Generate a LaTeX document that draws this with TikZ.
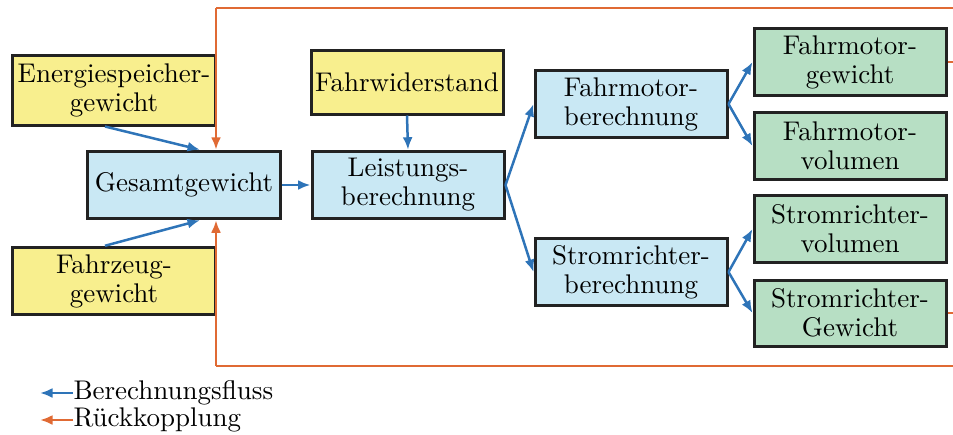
\documentclass[tikz,border=0pt]{standalone}
\usetikzlibrary{arrows.meta,calc}
\definecolor{boxyellow}{HTML}{F8EF8E}
\definecolor{boxblue}{HTML}{C9E8F4}
\definecolor{boxgreen}{HTML}{B7DFC4}
\definecolor{flowblue}{HTML}{2E74B8}
\definecolor{fborange}{HTML}{E06A34}
\definecolor{edge}{HTML}{222222}
\tikzset{
  box/.style={draw=edge, line width=1.2pt, inner sep=0pt, align=center,
    font=\fontsize{10.8pt}{11.6pt}\selectfont, minimum width=76.8pt, minimum height=27pt},
  ybox/.style={box, fill=boxyellow},
  bbox/.style={box, fill=boxblue},
  gbox/.style={box, fill=boxgreen},
  flow/.style={draw=flowblue, line width=1pt, -{Latex[length=5pt,width=4pt]}},
  fb/.style={draw=fborange, line width=1.1pt},
  fbarrow/.style={fb, -{Latex[length=5pt,width=4pt]}},
  legtext/.style={anchor=west, inner sep=0pt, font=\fontsize{10.8pt}{11.6pt}\selectfont}
}
\begin{document}
\begin{tikzpicture}[x=0.4pt,y=-0.4pt]
\useasboundingbox (0,0) rectangle (953,434);
% nodes
\node[ybox, minimum width=81.2pt, minimum height=28pt] (es) at (114,90) {Energiespeicher-\\gewicht};
\node[ybox, minimum width=81.2pt, minimum height=27pt] (fz) at (114,281) {Fahrzeug-\\gewicht};
\node[bbox] (ges) at (184,185) {Gesamtgewicht};
\node[ybox, minimum height=25.6pt] (fw) at (407,82) {Fahrwiderstand};
\node[bbox] (lb) at (408,185) {Leistungs-\\berechnung};
\node[bbox] (fmb) at (631,104) {Fahrmotor-\\berechnung};
\node[bbox] (srb) at (631,272) {Stromrichter-\\berechnung};
\node[gbox] (fmg) at (850,62) {Fahrmotor-\\gewicht};
\node[gbox] (fmv) at (850,146) {Fahrmotor-\\volumen};
\node[gbox] (srv) at (850,229) {Stromrichter-\\volumen};
\node[gbox, minimum height=26.4pt] (srg) at (850,313) {Stromrichter-\\Gewicht};
% blue flow
\draw[flow] ($(es.south)+(-9,0)$) -- ($(ges.north)+(16,0)$);
\draw[flow] ($(fz.north)+(-9,0)$) -- ($(ges.south)+(16,0)$);
\draw[flow] (ges.east) -- (lb.west);
\draw[flow] (fw.south) -- (lb.north);
\draw[flow] (lb.east) -- (fmb.west);
\draw[flow] (lb.east) -- (srb.west);
\draw[flow] (fmb.east) -- (fmg.west);
\draw[flow] (fmb.east) -- (fmv.west);
\draw[flow] (srb.east) -- (srv.west);
\draw[flow] (srb.east) -- (srg.west);
% orange feedback
\coordinate (tr) at (953,8);
\coordinate (tl) at (216,8);
\coordinate (br) at (953,366);
\coordinate (bl) at (216,366);
\draw[fb] (tr) -- (tl);
\draw[fbarrow] (tl) -- (tl |- ges.north);
\draw[fb] (br) -- (bl);
\draw[fbarrow] (bl) -- (bl |- ges.south);
\draw[fb] (fmg.east) -- (fmg.east -| tr);
\draw[fb] (srg.east) -- (srg.east -| tr);
% legend
\node[legtext] (lg1) at (73,393) {Berechnungsfluss};
\node[legtext] (lg2) at (73,420) {R\"uckkopplung};
\coordinate (lg1e) at (40,393);
\coordinate (lg2e) at (40,420);
\draw[flow] (lg1.west) -- (lg1e);
\draw[fbarrow] (lg2.west) -- (lg2e);
\end{tikzpicture}
\end{document}
